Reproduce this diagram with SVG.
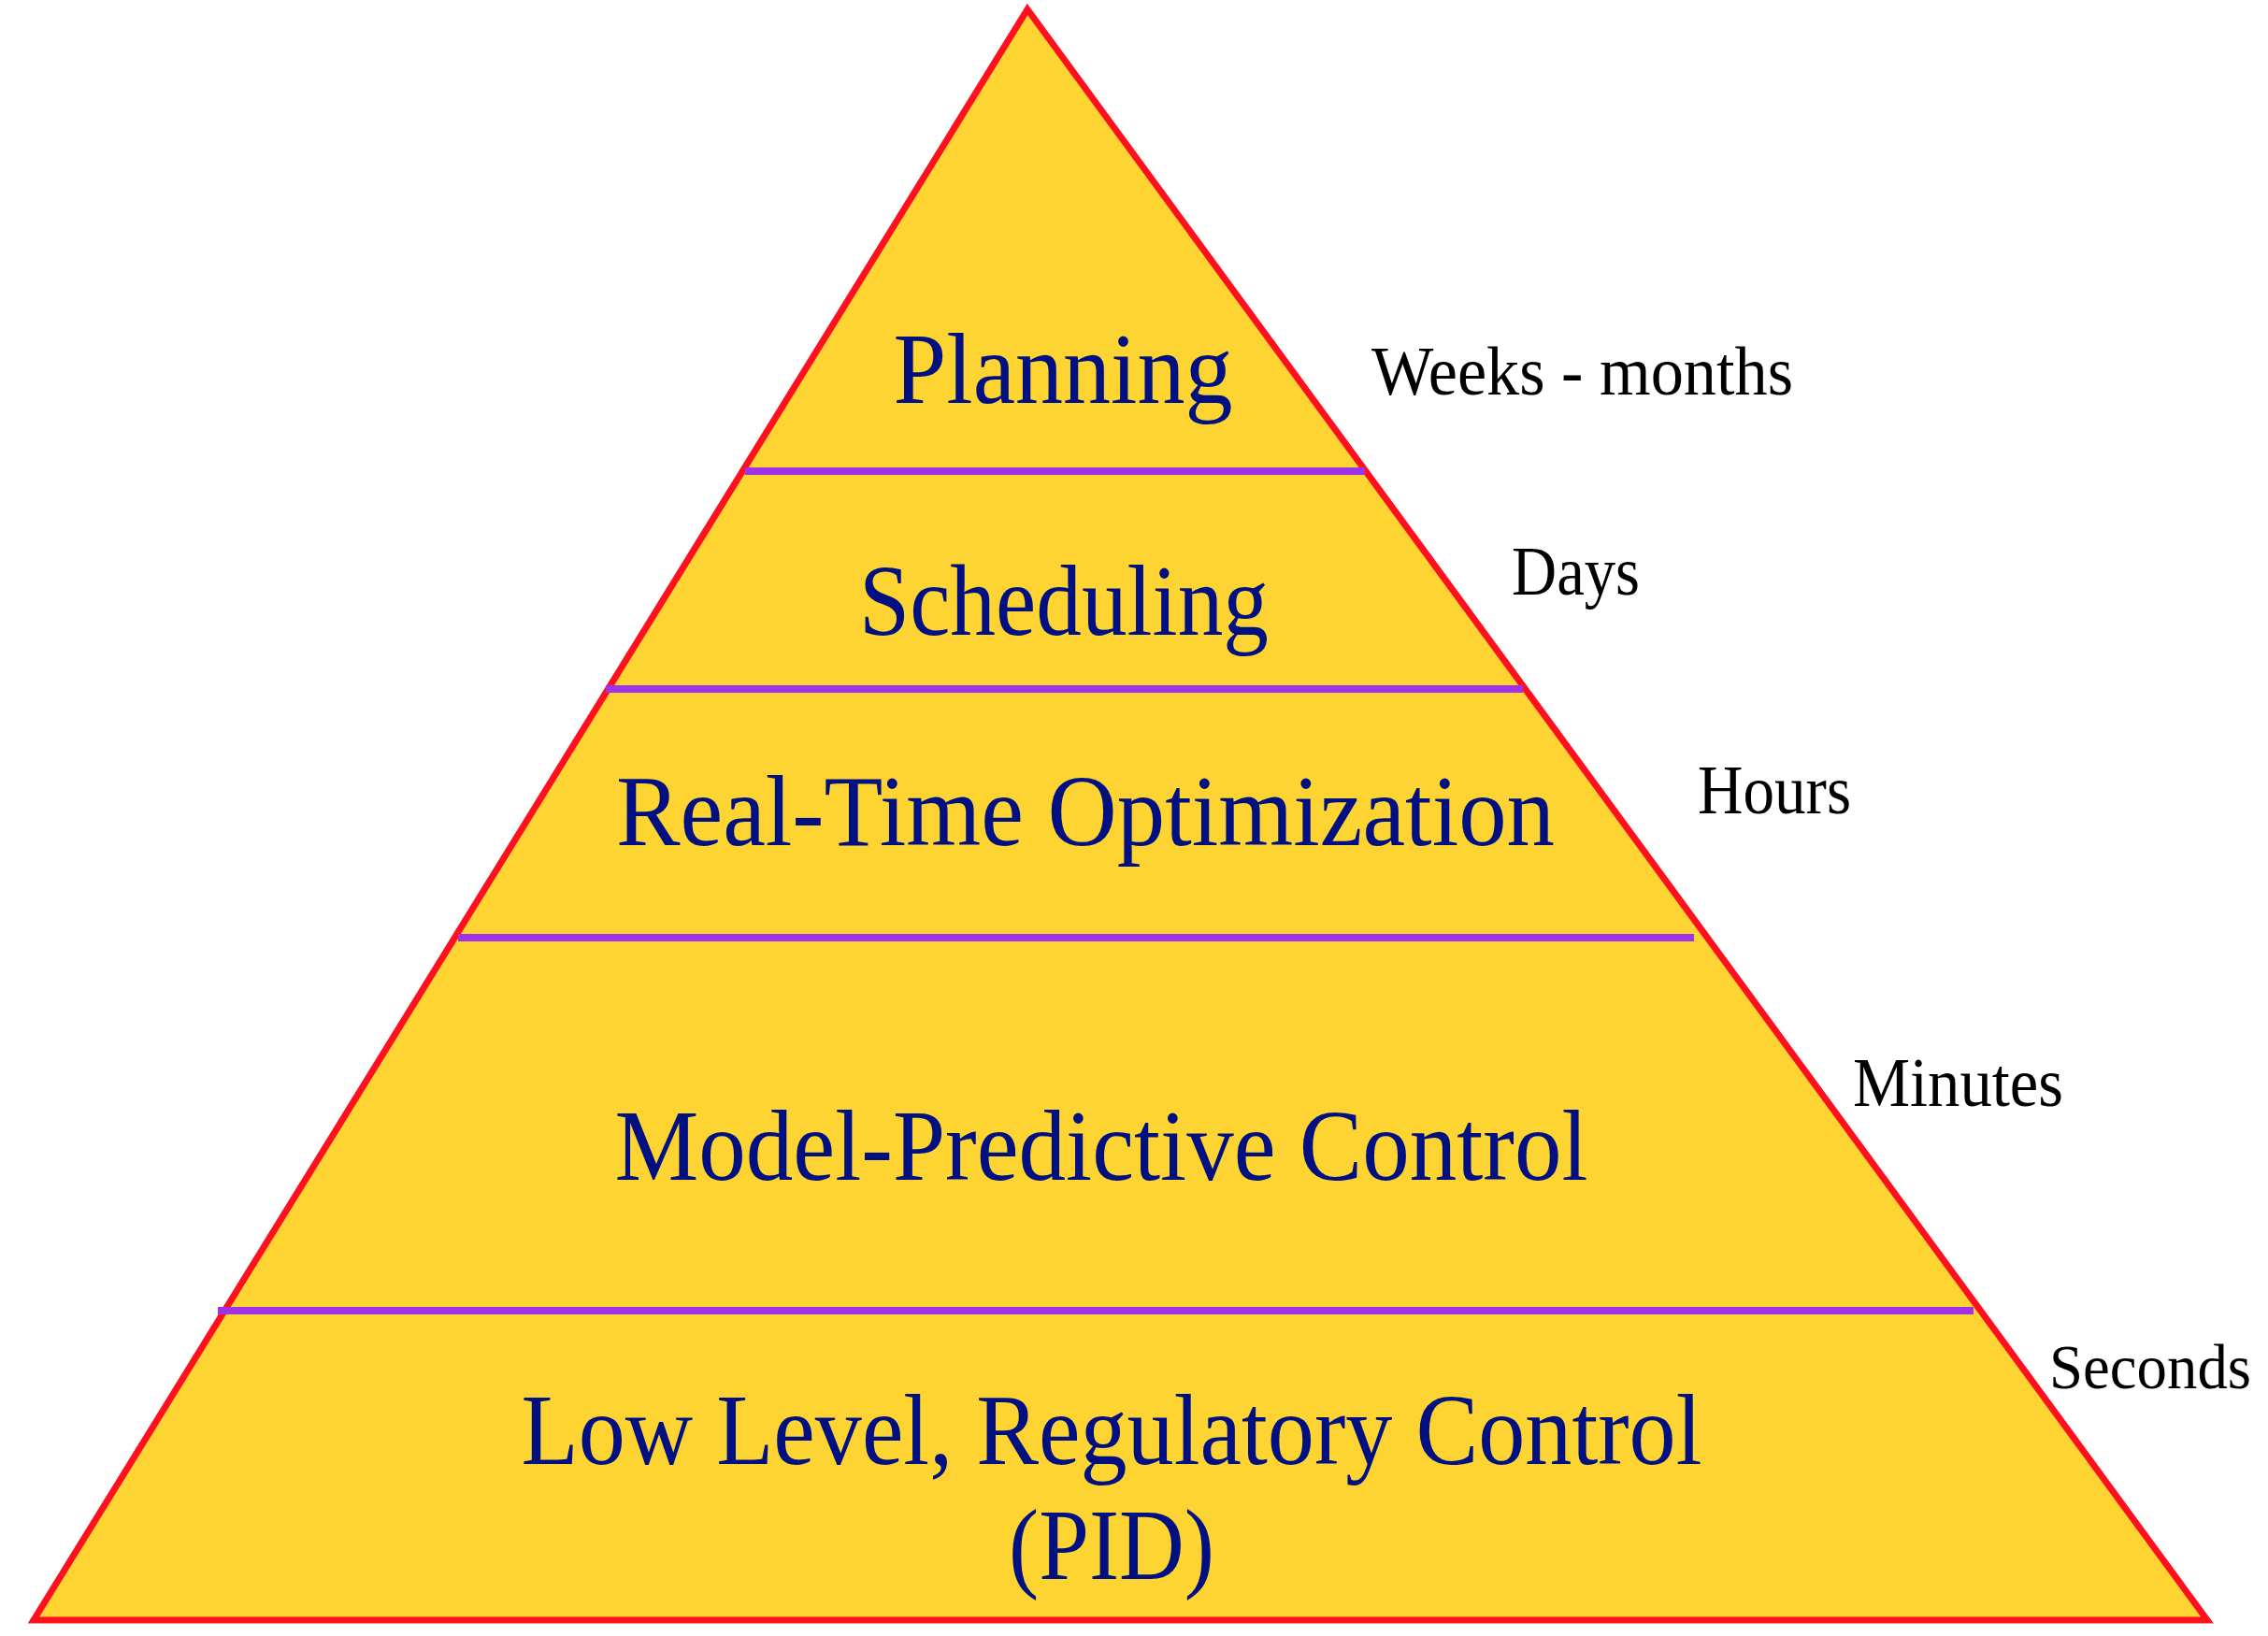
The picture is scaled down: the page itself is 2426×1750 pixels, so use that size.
<svg xmlns="http://www.w3.org/2000/svg" width="2426" height="1750" viewBox="0 0 2426 1750">
<style>
.tier{font-family:"Liberation Serif","DejaVu Serif",serif;font-size:108px;fill:#001080;text-anchor:middle}
.lbl{font-family:"Liberation Serif","DejaVu Serif",serif;font-size:73px;fill:#000000}
.div{stroke:#A032E8;stroke-width:8;fill:none}
</style>
<rect width="2426" height="1750" fill="#FFFFFF"/>
<g id="pyramid">
<polygon points="1099,10 2361,1733 36,1733" fill="#FDD431" stroke="#FF101F" stroke-width="7" stroke-linejoin="miter"/>
</g>
<g id="connectors">
<line class="div" x1="797" y1="504" x2="1460" y2="504"/>
<line class="div" x1="648" y1="737" x2="1629" y2="737"/>
<line class="div" x1="490" y1="1003" x2="1812" y2="1003"/>
<line class="div" x1="233" y1="1402" x2="2111" y2="1402"/>
</g>
<g id="planning"><text class="tier" x="1137" y="431" textLength="363" lengthAdjust="spacingAndGlyphs">Planning</text></g>
<g id="scheduling"><text class="tier" x="1138" y="679" textLength="438" lengthAdjust="spacingAndGlyphs">Scheduling</text></g>
<g id="rto"><text class="tier" x="1161" y="904" textLength="1004" lengthAdjust="spacingAndGlyphs">Real-Time Optimization</text></g>
<g id="mpc"><text class="tier" x="1178" y="1262" textLength="1041" lengthAdjust="spacingAndGlyphs">Model-Predictive Control</text></g>
<g id="regulatory">
<text class="tier" x="1189" y="1566" textLength="1263" lengthAdjust="spacingAndGlyphs">Low Level, Regulatory Control</text>
<text class="tier" x="1189" y="1689" textLength="220" lengthAdjust="spacingAndGlyphs">(PID)</text>
</g>
<g id="label-weeks"><text class="lbl" x="1467" y="422" textLength="451" lengthAdjust="spacingAndGlyphs">Weeks - months</text></g>
<g id="label-days"><text class="lbl" x="1617" y="636" textLength="137" lengthAdjust="spacingAndGlyphs">Days</text></g>
<g id="label-hours"><text class="lbl" x="1816" y="870" textLength="164" lengthAdjust="spacingAndGlyphs">Hours</text></g>
<g id="label-minutes"><text class="lbl" x="1982" y="1183" textLength="225" lengthAdjust="spacingAndGlyphs">Minutes</text></g>
<g id="label-seconds"><text class="lbl" x="2192" y="1485" style="font-size:67px" textLength="216" lengthAdjust="spacingAndGlyphs">Seconds</text></g>
</svg>
